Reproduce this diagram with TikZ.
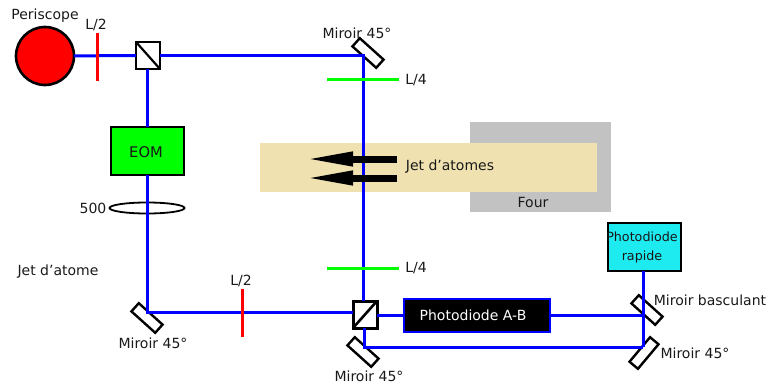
\documentclass[tikz,border=0pt]{standalone}
\usepackage{fontspec}
\setmainfont{DejaVu Sans}
\usetikzlibrary{arrows.meta,shapes.geometric}
\tikzset{
  beam/.style={draw={rgb,255:red,0;green,0;blue,255},line width=3pt},
  plate/.style={line width=3pt},
  mirror/.style={draw=black,fill=white,line width=2.4pt,minimum width=32pt,minimum height=11pt,inner sep=0pt,outer sep=0pt},
  cube/.style={draw=black,fill=white,line width=2.4pt,minimum width=24pt,minimum height=27pt,inner sep=0pt,outer sep=0pt},
  lbl/.style={inner sep=0pt,font=\fontsize{14}{16}\selectfont,text=black!90},
  box/.style={draw=black,line width=2pt,inner sep=0pt,outer sep=0pt},
  jet/.style={line width=7pt,-{Triangle[length=50pt,width=13pt]}}
}
\definecolor{beige}{RGB}{239,226,176}
\definecolor{grey}{RGB}{194,194,194}
\definecolor{cyanbox}{RGB}{30,235,240}
\begin{document}
\begin{tikzpicture}[x=1pt,y=-1pt]
\useasboundingbox (0,0) rectangle (768,385);
% oven and atom jet
\node[fill=grey,minimum width=141pt,minimum height=90pt,inner sep=0pt] (four) at (540.5,167) {};
\node[fill=beige,minimum width=337pt,minimum height=49pt,inner sep=0pt] (jetband) at (428.5,167.5) {};
\node[lbl] (fourlbl) at (533,202) {Four};
\node[lbl] (jetlbl) at (450,167) {Jet d'atomes};
% waypoints
\coordinate (c1) at (363,55.5);
\coordinate (c2) at (147,312);
\coordinate (c3) at (364,347);
\coordinate (c4) at (643,347);
\coordinate (c5) at (643,315);
% components
\node[draw=black,fill=red,circle,line width=2.6pt,minimum size=58pt,inner sep=0pt,outer sep=0pt] (peri) at (45,56) {};
\node[cube] (bs1) at (148,55.5) {};
\node[box,fill=green,minimum width=73pt,minimum height=48pt] (eom) at (147.5,151) {};
\node[draw=black,line width=1.8pt,ellipse,minimum width=75pt,minimum height=11pt,inner sep=0pt,outer sep=0pt] (lens) at (147,208) {};
\node[cube,line width=3pt] (bs2) at (365,314.5) {};
\node[draw={rgb,255:red,0;green,0;blue,255},fill=black,line width=2.8pt,minimum width=146pt,minimum height=33pt,inner sep=0pt,outer sep=0pt] (pdab) at (477,315.5) {};
\node[box,fill=cyanbox,minimum width=73pt,minimum height=48pt] (pdr) at (644,246.5) {};
% mirrors
\node[mirror,rotate=-42] (m1) at (368,53) {};
\node[mirror,rotate=-42] (m2) at (147,318) {};
\node[mirror,rotate=-42] (m3) at (363,352) {};
\node[mirror,rotate=-42] (m4) at (647,310) {};
\node[mirror,rotate=50] (m5) at (644,353) {};
% beams
\draw[beam] (peri) -- (bs1);
\draw[beam] (bs1) -- (c1) -- (c1 |- bs2.north);
\draw[beam] (c2 |- bs1.south) -- (c2 |- eom.north);
\draw[beam] (c2 |- eom.south) -- (c2) -- (bs2.west |- c2);
\draw[beam] (bs2.east |- c5) -- (pdab.west |- c5);
\draw[beam] (pdab.east |- c5) -- (c5);
\draw[beam] (c3 |- bs2.south) -- (c3) -- (c4);
\draw[beam] (c4 |- pdr.south) -- (c4);
% waveplates
\coordinate (a1) at (97,33); \coordinate (a2) at (97,81);
\coordinate (b1) at (242,289); \coordinate (b2) at (242,337);
\coordinate (d1) at (327,79.5); \coordinate (d2) at (399,79.5);
\coordinate (e1) at (327,268.5); \coordinate (e2) at (399,268.5);
\draw[plate,red] (a1) -- (a2);
\draw[plate,red] (b1) -- (b2);
\draw[plate,green] (d1) -- (d2);
\draw[plate,green] (e1) -- (e2);
% cube diagonals
\draw[black,line width=2.2pt] (bs1.north west) -- (bs1.south east);
\draw[black,line width=2.6pt] (bs2.south west) -- (bs2.north east);
% jet arrows
\coordinate (j1s) at (397,159); \coordinate (j1e) at (303,159);
\coordinate (j2s) at (397,178); \coordinate (j2e) at (303,178);
\draw[jet] (j1s) -- (j1e);
\draw[jet] (j2s) -- (j2e);
% labels
\node[lbl] (lperi) at (45,16) {Periscope};
\node[lbl] (ll1) at (96,25) {L/2};
\node[lbl] (lm1) at (357,33) {Miroir 45°};
\node[lbl] (lq1) at (416,80) {L/4};
\node[lbl,font=\fontsize{14.7}{17}\selectfont] (leom) at (146,152) {EOM};
\node[lbl] (l500) at (93,208) {500};
\node[lbl] (ljet) at (58,272) {Jet d'atome};
\node[lbl] (lm2) at (153,343) {Miroir 45°};
\node[lbl] (ll2) at (241,281) {L/2};
\node[lbl] (lq2) at (416,268) {L/4};
\node[lbl] (lm3) at (369,376) {Miroir 45°};
\node[lbl,text=white] (lpd) at (473,315) {Photodiode A-B};
\node[lbl,align=center,font=\fontsize{12.7}{19}\selectfont] (lpdr) at (642,247) {Photodiode\\rapide};
\node[lbl] (lm4) at (710,300) {Miroir basculant};
\node[lbl] (lm5) at (695,353) {Miroir 45°};
\end{tikzpicture}
\end{document}
